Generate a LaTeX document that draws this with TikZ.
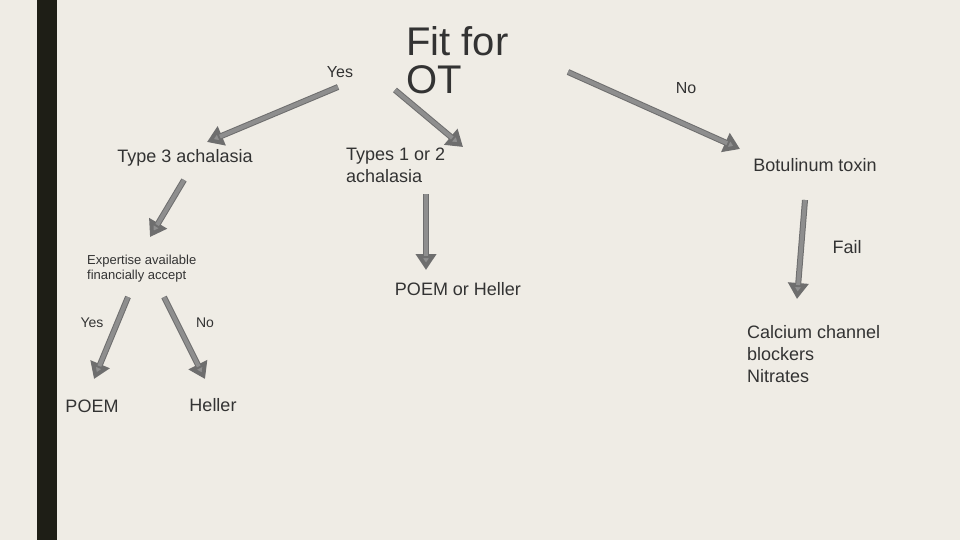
\documentclass[tikz,border=0pt]{standalone}
\usepackage{fontspec}
\setmainfont{Liberation Sans}
\usetikzlibrary{arrows.meta}
\definecolor{bg}{HTML}{EFECE5}
\definecolor{bar}{HTML}{1E1E16}
\definecolor{arr}{HTML}{8E8E8E}
\definecolor{arrd}{HTML}{6E6E6E}
\definecolor{txt}{HTML}{333333}
\begin{document}
\begin{tikzpicture}[x=1pt,y=-1pt,
  lbl/.style={text=txt,inner sep=0pt,font=\fontsize{18}{22}\selectfont,align=left},
  sml/.style={text=txt,inner sep=0pt,font=\fontsize{13}{15}\selectfont,align=left},
  fat/.style={line width=6pt,draw=arrd,-{Triangle[width=20pt,length=16pt,fill=arr]},
    postaction={draw=arr,line width=4pt,shorten >=14pt,-}}]
\useasboundingbox (0,0) rectangle (960,540);
\fill[bg] (0,0) rectangle (960,540);
\fill[bar] (37,0) rectangle (57,540);
\node[sml,font=\fontsize{16}{18}\selectfont] (yes1) at (340,72) {Yes};
\node[lbl,anchor=north west,font=\fontsize{40}{38}\selectfont] (fit) at (406,26) {Fit for\\OT};
\node[sml,font=\fontsize{16}{18}\selectfont] (no1) at (686,88) {No};
\node[lbl] (t3) at (185,158) {Type 3 achalasia};
\node[lbl,anchor=north west] (t12) at (346,148) {Types 1 or 2\\achalasia};
\node[lbl] (bot) at (815,165) {Botulinum toxin};
\node[lbl] (fail) at (847,247) {Fail};
\node[sml,anchor=north west] (exp) at (87,255) {Expertise available\\financially accept};
\node[lbl] (ph) at (458,289) {POEM or Heller};
\node[sml,font=\fontsize{14}{16}\selectfont] (yes2) at (92,323) {Yes};
\node[sml,font=\fontsize{14}{16}\selectfont] (no2) at (205,323) {No};
\node[lbl,anchor=north west] (ccb) at (747,325) {Calcium channel\\blockers\\Nitrates};
\node[lbl] (poem) at (92,406) {POEM};
\node[lbl] (hel) at (213,405) {Heller};
\coordinate (a1s) at (338,87); \coordinate (a1e) at (207,142);
\coordinate (a2s) at (395,90); \coordinate (a2e) at (463,147);
\coordinate (a3s) at (568,72); \coordinate (a3e) at (740,149);
\coordinate (a4s) at (184,180); \coordinate (a4e) at (150,237);
\coordinate (a5s) at (426,194); \coordinate (a5e) at (426,270);
\coordinate (a6s) at (805,200); \coordinate (a6e) at (797,299);
\coordinate (a7s) at (128,297); \coordinate (a7e) at (94,379);
\coordinate (a8s) at (164,297); \coordinate (a8e) at (205,379);
\foreach \i in {1,...,8} \draw[fat] (a\i s) -- (a\i e);
\end{tikzpicture}
\end{document}
